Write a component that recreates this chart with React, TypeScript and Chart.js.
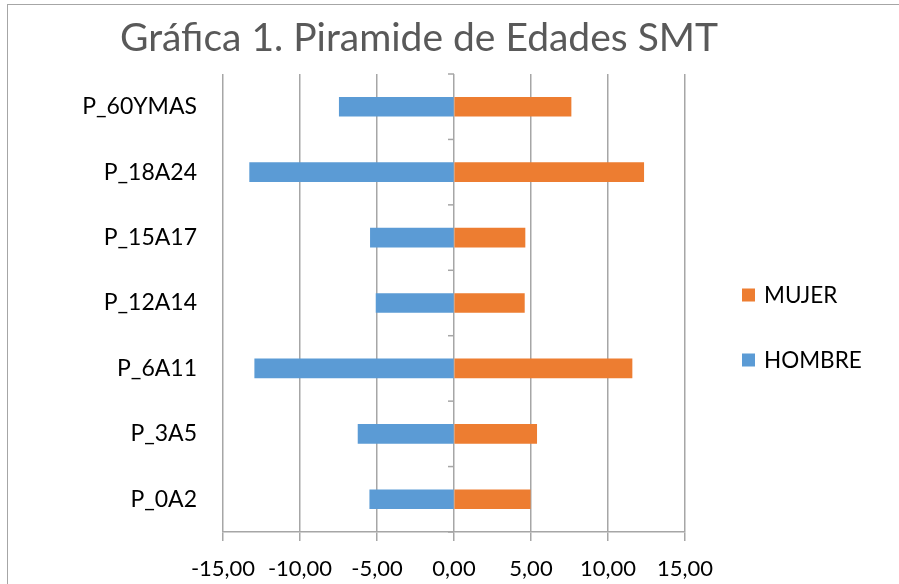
import React, { useEffect, useRef } from "react";
import { Chart, registerables } from "chart.js";

Chart.register(...registerables);

const categories = ["P_60YMAS", "P_18A24", "P_15A17", "P_12A14", "P_6A11", "P_3A5", "P_0A2"];
const hombre = [-7.45, -13.27, -5.43, -5.06, -12.94, -6.23, -5.47];
const mujer = [7.6, 12.32, 4.61, 4.57, 11.56, 5.37, 4.95];
const xTicks = [-15, -10, -5, 0, 5, 10, 15];
const title = "Gráfica 1. Piramide de Edades SMT";
const FONT = "Lato, 'Open Sans', sans-serif";

const decor = {
  id: "decor",
  afterDraw(chart: any) {
    const ctx = chart.ctx;
    const x = chart.scales.x;
    const y = chart.scales.y;
    ctx.save();
    // title
    ctx.fillStyle = "#595959";
    ctx.font = `39px ${FONT}`;
    ctx.textAlign = "center";
    ctx.textBaseline = "alphabetic";
    ctx.fillText(title, 419, 51);
    // zero-axis tick marks
    const x0 = x.getPixelForValue(0);
    ctx.strokeStyle = "#a6a6a6";
    ctx.lineWidth = 1.5;
    const n = categories.length;
    const step = (y.bottom - y.top) / n;
    for (let i = 0; i <= n; i++) {
      const yy = y.top + i * step;
      ctx.beginPath();
      ctx.moveTo(x0 - 6, yy);
      ctx.lineTo(x0, yy);
      ctx.stroke();
    }
    // legend
    const items = [
      { label: "MUJER", color: "#ED7D31", cy: 295 },
      { label: "HOMBRE", color: "#5B9BD5", cy: 360 },
    ];
    ctx.font = `22.5px ${FONT}`;
    ctx.textAlign = "left";
    ctx.textBaseline = "middle";
    for (const it of items) {
      ctx.fillStyle = it.color;
      ctx.fillRect(742, it.cy - 6.5, 13, 13);
      ctx.fillStyle = "#000000";
      ctx.fillText(it.label, 764, it.cy + 1);
    }
    ctx.restore();
  },
};

export default function App() {
  const ref = useRef<HTMLCanvasElement | null>(null);
  useEffect(() => {
    if (!ref.current) return;
    const chart = new Chart(ref.current, {
      type: "bar",
      data: {
        labels: categories,
        datasets: [
          { label: "HOMBRE", data: hombre, backgroundColor: "#5B9BD5", barThickness: 19 },
          { label: "MUJER", data: mujer, backgroundColor: "#ED7D31", barThickness: 19 },
        ],
      },
      options: {
        indexAxis: "y",
        responsive: false,
        animation: false,
        layout: { padding: { top: 74, right: 214, left: 0, bottom: 0 } },
        plugins: { legend: { display: false }, title: { display: false }, tooltip: { enabled: false } },
        scales: {
          x: {
            stacked: true,
            min: -15,
            max: 15,
            afterBuildTicks: (s: any) => {
              s.ticks = xTicks.map((v) => ({ value: v }));
            },
            afterFit: (s: any) => {
              s.height = 52;
            },
            grid: { color: "#a6a6a6", lineWidth: 1.5, tickLength: 9, drawTicks: true },
            border: { color: "#a6a6a6", width: 1.5 },
            ticks: {
              color: "#000000",
              font: { family: FONT, size: 22 },
              padding: 15,
              maxRotation: 0,
              callback: (v: any) => Number(v).toFixed(2).replace(".", ","),
            },
          },
          y: {
            stacked: true,
            afterFit: (s: any) => {
              s.width = 223;
            },
            grid: { display: false, drawTicks: false },
            border: { display: false },
            ticks: { color: "#000000", font: { family: FONT, size: 23 }, padding: 26 },
          },
        },
      },
      plugins: [decor],
    } as any);
    return () => chart.destroy();
  }, []);
  return (
    <div style={{ position: "fixed", left: 0, top: 0, width: 899, height: 584, background: "#fff" }}>
      <canvas ref={ref} width={899} height={584} style={{ position: "absolute", left: 0, top: 0 }} />
      <div
        style={{
          position: "absolute",
          left: 7,
          top: 4,
          width: 1000,
          height: 1000,
          border: "1.5px solid #a6a6a6",
          pointerEvents: "none",
        }}
      />
    </div>
  );
}
